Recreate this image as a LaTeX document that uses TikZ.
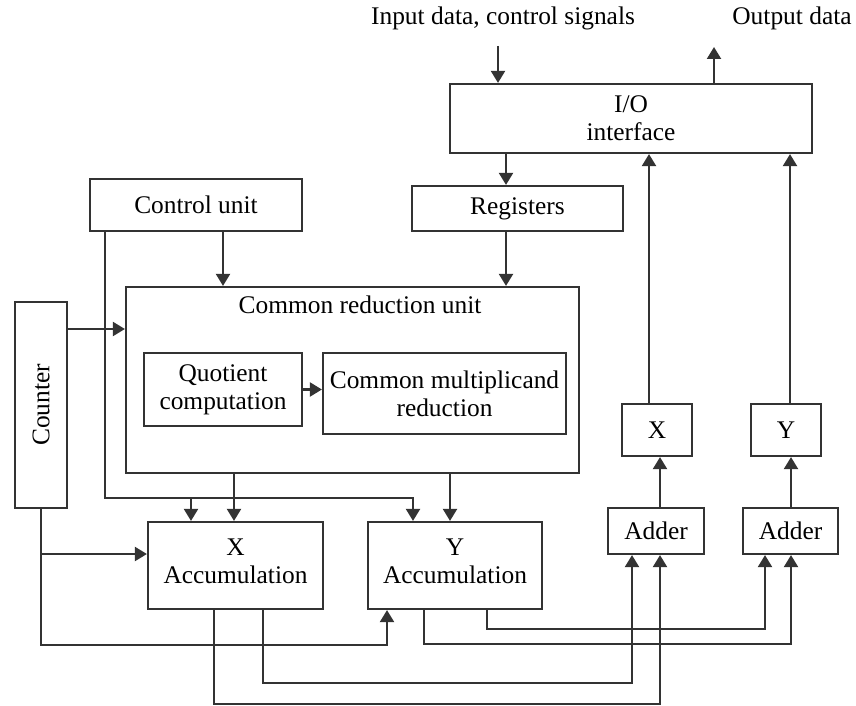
\documentclass[tikz,border=0pt]{standalone}
\usepackage{fontspec}
\setmainfont{Liberation Serif}
\usepackage{graphicx}
\usetikzlibrary{arrows.meta}
\colorlet{wireG}{black!80}
\tikzstyle{block}=[draw=wireG, line width=1.1pt, inner sep=0pt, align=center, font=\fontsize{12.7}{14}\selectfont]
\tikzstyle{caption}=[inner sep=0pt, font=\fontsize{12.7}{14}\selectfont]
\tikzstyle{wire}=[draw=wireG, line width=1.1pt]
\tikzstyle{arr}=[wire, -{Triangle[length=6pt,width=7pt]}]

\begin{document}
\begin{tikzpicture}[x=0.5pt, y=-0.5pt]
				\useasboundingbox (0,0) rectangle (856,706);

				\node[block, minimum width=181pt, minimum height=34.5pt] (io) at (631,118.5) {I/O\\interface};
				\node[block, minimum width=105.5pt, minimum height=22.5pt] (reg) at (517.5,208.5) {Registers};
				\node[block, minimum width=106pt, minimum height=26pt] (cu) at (196,205) {Control unit};
				\node[block, minimum width=226.5pt, minimum height=93pt] (cru) at (352.5,380) {};
				\node[caption] (crulbl) at (360,305) {Common reduction unit};
				\node[block, minimum width=79pt, minimum height=36.5pt] (qc) at (223,389.5) {Quotient\\computation};
				\node[block, minimum width=121.5pt, minimum height=40.5pt] (cmr) at (444.5,393.5) {Common multiplicand\\reduction};
				\node[block, minimum width=26pt, minimum height=103pt] (ctr) at (41,405) {\rotatebox{90}{Counter}};
				\node[block, minimum width=87.5pt, minimum height=43.5pt, text depth=4pt] (xacc) at (235.5,565.5) {X\\Accumulation};
				\node[block, minimum width=87pt, minimum height=43.5pt, text depth=4pt] (yacc) at (455,565.5) {Y\\Accumulation};
				\node[block, minimum width=35pt, minimum height=26pt] (xreg) at (657,430) {X};
				\node[block, minimum width=35pt, minimum height=26pt] (yreg) at (786,430) {Y};
				\node[block, minimum width=48pt, minimum height=23pt] (add1) at (656,531) {Adder};
				\node[block, minimum width=47.5pt, minimum height=23pt] (add2) at (790.5,531) {Adder};

				\node[caption] (inlbl) at (503,18) {Input data, control signals};
				\node[caption] (outlbl) at (792,18) {Output data};

				\coordinate (inpt) at (498,46);
				\coordinate (outpt) at (714,47);
				\coordinate (regcol) at (506,0);
				\coordinate (cucol) at (223,0);
				\coordinate (cuwire) at (105,0);
				\coordinate (xbranch) at (191,498);
				\coordinate (ybranch) at (413,498);
				\coordinate (crux) at (234,0);
				\coordinate (cruy) at (450,0);
				\coordinate (ctrrow) at (0,329);
				\coordinate (xaccrow) at (0,554);
				\coordinate (ctrbend) at (387,645);
				\coordinate (xa1) at (214,704);
				\coordinate (xa2) at (263,683);
				\coordinate (ya1) at (424,644);
				\coordinate (ya2) at (487,629);
				\coordinate (a1in1) at (632,0);
				\coordinate (a1in2) at (660,0);
				\coordinate (a2in1) at (765,0);
				\coordinate (a2in2) at (791,0);
				\coordinate (xup) at (649,0);
				\coordinate (yup) at (790,0);

				\draw[arr] (inpt) -- (inpt |- io.north);
				\draw[arr] (io.north -| outpt) -- (outpt);
				\draw[arr] (io.south -| regcol) -- (reg.north -| regcol);
				\draw[arr] (reg.south -| regcol) -- (cru.north -| regcol);
				\draw[arr] (cu.south -| cucol) -- (cru.north -| cucol);
				\draw[arr] (ctr.east |- ctrrow) -- (cru.west |- ctrrow);
				\draw[arr] (qc.east) -- (cmr.west |- qc.east);

				\draw[arr] (cu.south -| cuwire) |- (ybranch) -- (yacc.north -| ybranch);
				\draw[arr] (xbranch) -- (xacc.north -| xbranch);
				\draw[arr] (cru.south -| crux) -- (xacc.north -| crux);
				\draw[arr] (cru.south -| cruy) -- (yacc.north -| cruy);

				\draw[arr] (ctr.south) |- (ctrbend) -- (yacc.south -| ctrbend);
				\draw[arr] (ctr.south |- xaccrow) -- (xacc.west |- xaccrow);

				\draw[arr] (xacc.south -| xa1) -- (xa1) -| (add1.south -| a1in2);
				\draw[arr] (xacc.south -| xa2) -- (xa2) -| (add1.south -| a1in1);
				\draw[arr] (yacc.south -| ya1) -- (ya1) -| (add2.south -| a2in2);
				\draw[arr] (yacc.south -| ya2) -- (ya2) -| (add2.south -| a2in1);

				\draw[arr] (add1.north -| a1in2) -- (xreg.south -| a1in2);
				\draw[arr] (add2.north -| a2in2) -- (yreg.south -| a2in2);
				\draw[arr] (xreg.north -| xup) -- (io.south -| xup);
				\draw[arr] (yreg.north -| yup) -- (io.south -| yup);
			\end{tikzpicture}
\end{document}
